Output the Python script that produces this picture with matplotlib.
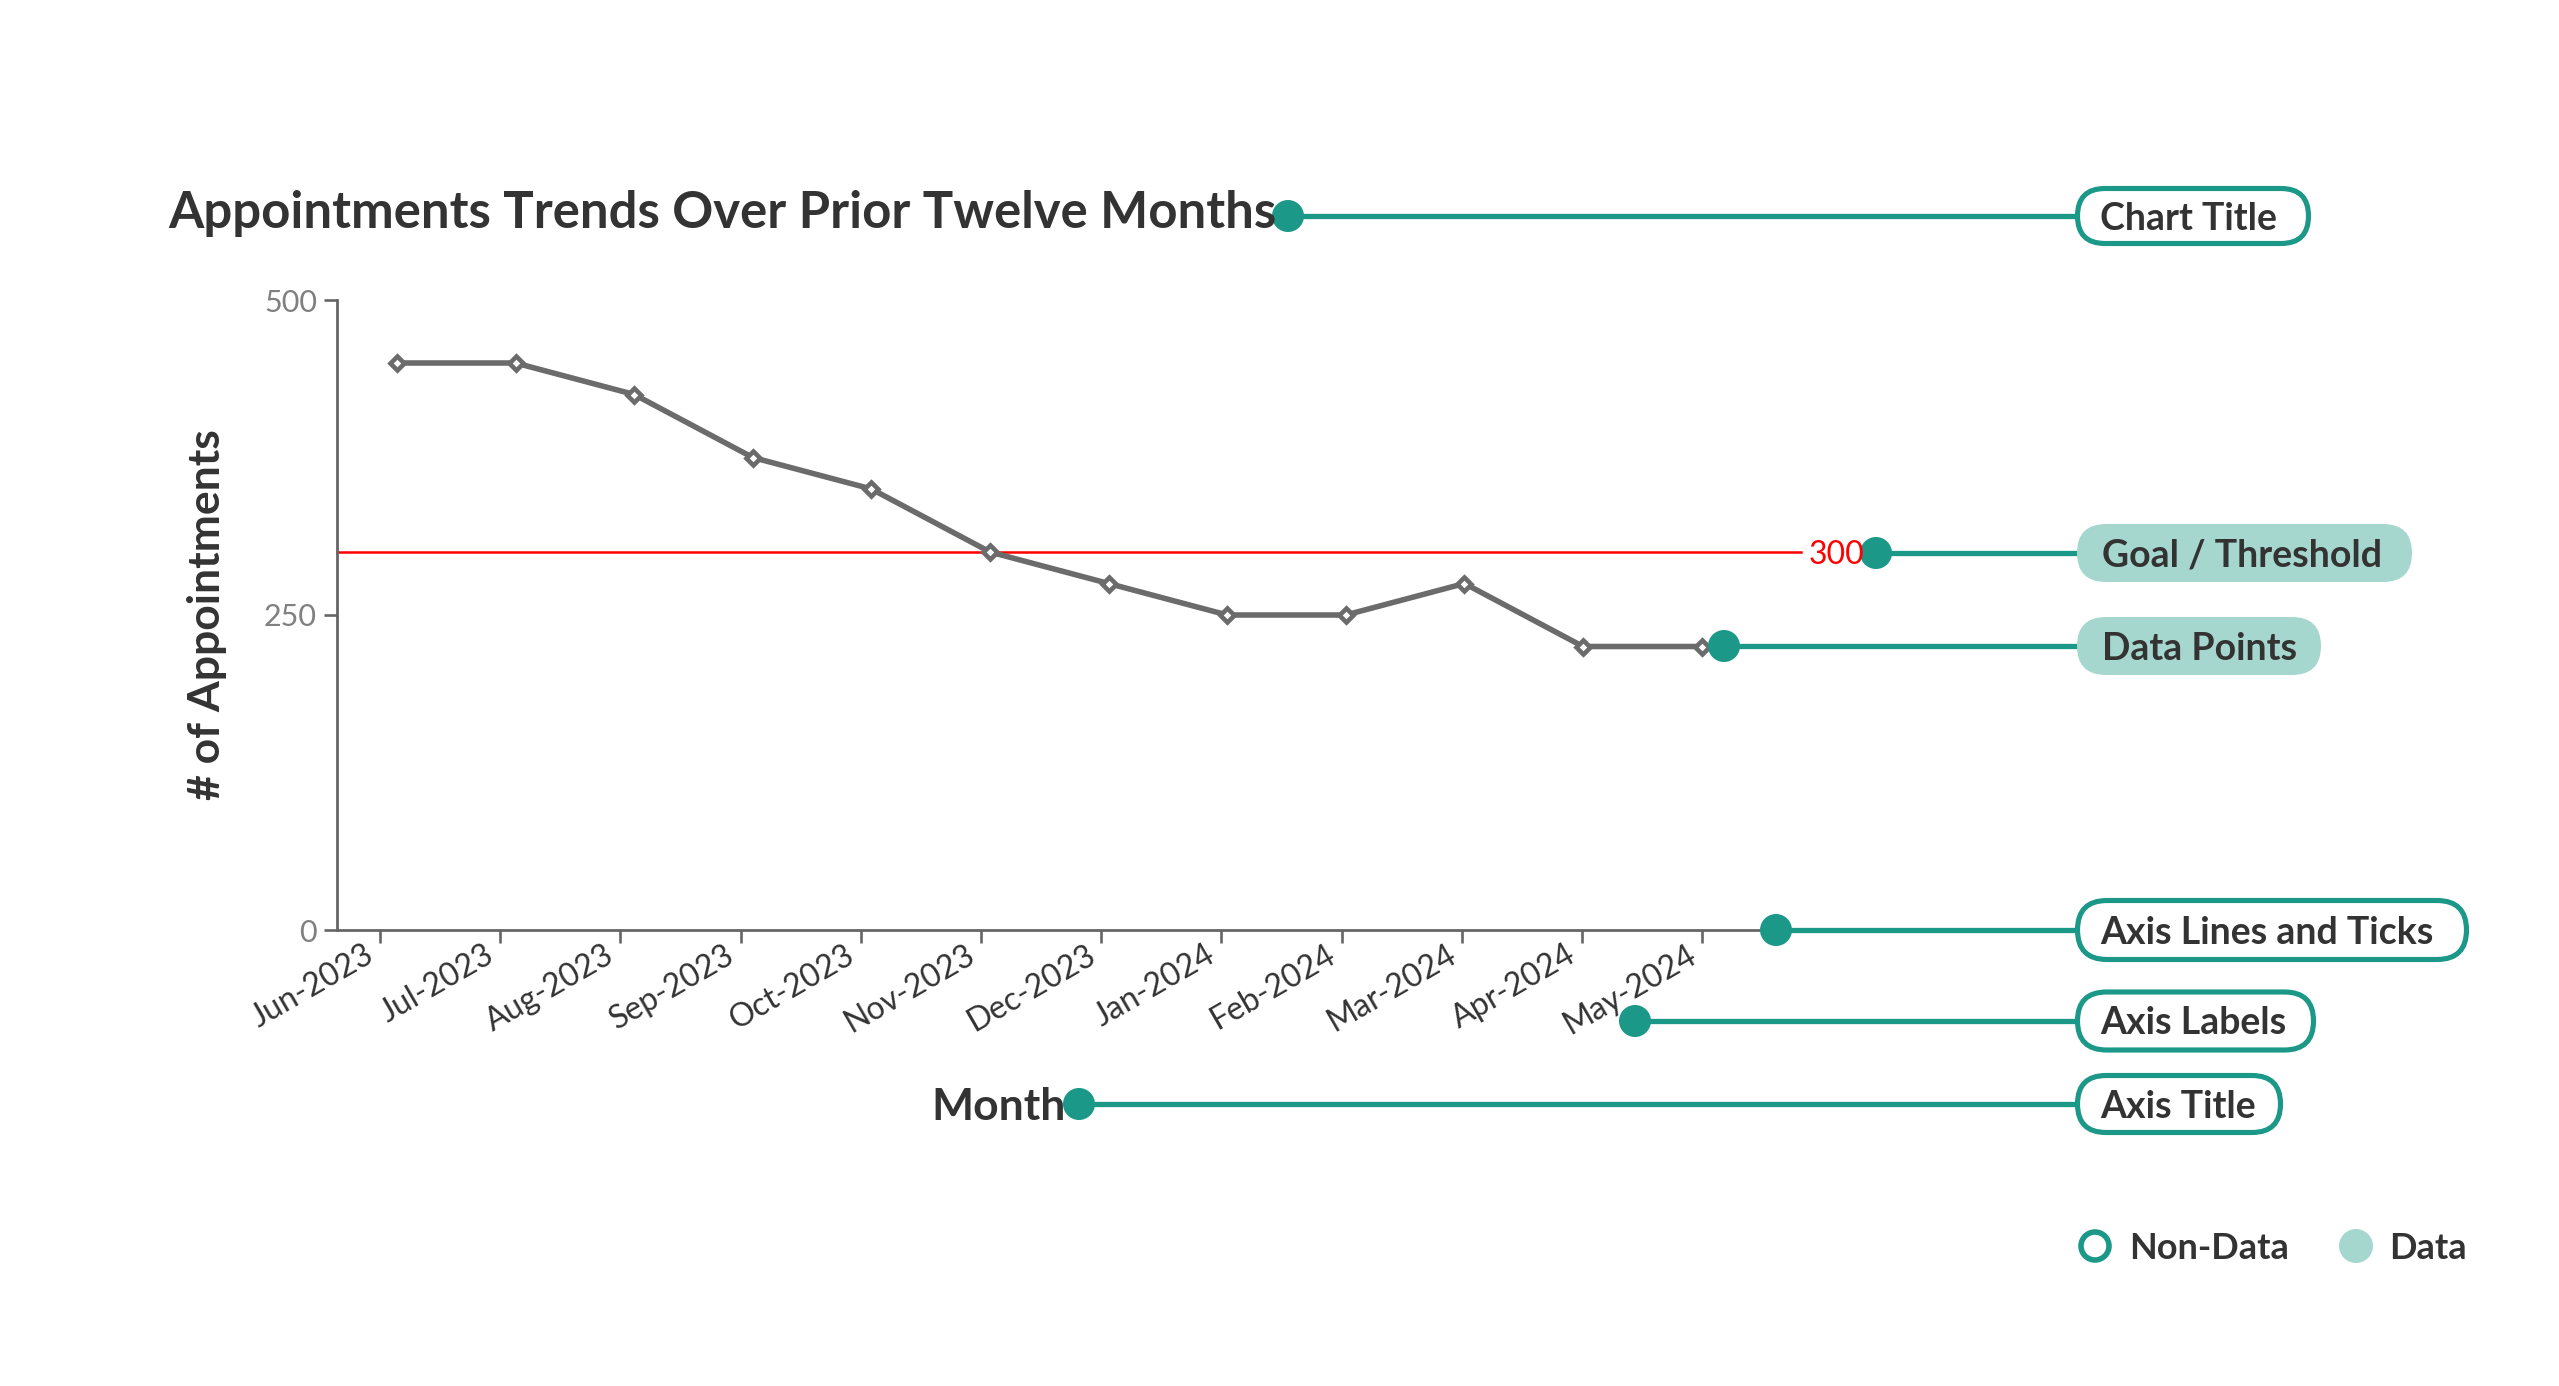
import matplotlib
matplotlib.use("Agg")
import matplotlib.pyplot as plt
from matplotlib.patches import FancyBboxPatch, Circle
from matplotlib.transforms import ScaledTranslation

# ---------------- data ----------------
months = ["Jun-2023", "Jul-2023", "Aug-2023", "Sep-2023", "Oct-2023", "Nov-2023",
          "Dec-2023", "Jan-2024", "Feb-2024", "Mar-2024", "Apr-2024", "May-2024"]
appointments = [450, 450, 425, 375, 350, 300, 275, 250, 250, 275, 225, 225]
goal = 300
y_ticks = [0, 250, 500]

title = "Appointments Trends Over Prior Twelve Months"
x_title = "Month"
y_title = "# of Appointments"

# ---------------- style ----------------
FONT = ["Lato", "DejaVu Sans"]
plt.rcParams['font.family'] = FONT
TEAL = "#1b9888"
LTEAL = "#a6d7cf"
DARK = "#333333"
LINEGRAY = "#6b6b6b"
AXGRAY = "#666666"

W, H = 2559, 1386
fig = plt.figure(figsize=(W / 100, H / 100), dpi=100)
fig.patch.set_facecolor("white")

# main axes (pixel geometry taken from reference)
axL, axR, axT, axB = 337, 1776, 300, 930
ax = fig.add_axes([axL / W, 1 - axB / H, (axR - axL) / W, (axB - axT) / H])

idx = list(range(len(months)))
ax.plot(idx, appointments, color=LINEGRAY, lw=4.0, marker="D", ms=7.5,
        mfc="white", mec=LINEGRAY, mew=3.3, zorder=3, clip_on=False)

ax.set_xlim(-0.506, 11.627)
ax.set_ylim(0, 500)
# x ticks sit on a slightly wider band than the points (as in reference)
tick_pos = [-0.1433 + 1.01349 * i for i in idx]
ax.set_xticks(tick_pos)
ax.set_xticklabels(months, rotation=30, ha="right", va="top",
                   rotation_mode="anchor", fontsize=23, color=DARK)
ax.set_yticks(y_ticks)
ax.set_yticklabels([str(v) for v in y_ticks], fontsize=22, color="#808080")
ax.tick_params(axis="x", length=9, width=1.9, color=AXGRAY, pad=3)
ax.tick_params(axis="y", length=9.5, width=1.9, color=AXGRAY, pad=5)
shift = ScaledTranslation(-16 / 100, 7 / 100, fig.dpi_scale_trans)
for lab in ax.get_xticklabels():
    lab.set_transform(lab.get_transform() + shift)
for s in ["top", "right"]:
    ax.spines[s].set_visible(False)
for s in ["left", "bottom"]:
    ax.spines[s].set_color(AXGRAY)
    ax.spines[s].set_linewidth(2.0)
ax.set_facecolor("none")

# goal line, extending a bit past the axis
ax.axhline(goal, xmin=0, xmax=1.0174, color="red", lw=1.8, clip_on=False, zorder=2)

# ---------------- overlay (pixel coordinates) ----------------
ov = fig.add_axes([0, 0, 1, 1], zorder=5)
ov.set_xlim(0, W)
ov.set_ylim(H, 0)
ov.axis("off")


def base(yc, fs):
    # baseline so that capitals are vertically centred on yc
    return yc + 0.36 * fs * 100 / 72


ov.text(168, 228, title, ha="left", va="baseline", fontsize=36.6,
        weight="bold", color=DARK)
ov.text(1066, base(1104, 32), x_title, ha="right", va="baseline", fontsize=32,
        weight="bold", color=DARK)
ov.text(207, 615, y_title, ha="center", va="center", rotation=90,
        fontsize=32, weight="bold", color=DARK)
ov.text(1809, base(553, 23), str(goal), ha="left", va="baseline", fontsize=23,
        color="red")

PILL_FS = 27


def pill(x0, x1, yc, h, label, filled):
    if filled:
        p = FancyBboxPatch((x0, yc - h / 2), x1 - x0, h,
                           boxstyle=f"round,pad=0,rounding_size={h/2}",
                           fc=LTEAL, ec="none", lw=0)
    else:
        p = FancyBboxPatch((x0 + 2.5, yc - h / 2 + 2.5), x1 - x0 - 5, h - 5,
                           boxstyle=f"round,pad=0,rounding_size={(h-5)/2}",
                           fc="white", ec=TEAL, lw=3.7)
    ov.add_patch(p)
    ov.text(x0 + 25, base(yc, PILL_FS), label, ha="left", va="baseline",
            fontsize=PILL_FS, weight="bold", color=DARK)


def leader(xd, yc, x_end):
    ov.plot([xd, x_end], [yc, yc], color=TEAL, lw=3.8, solid_capstyle="butt", zorder=1)
    ov.add_patch(Circle((xd, yc), 16, fc=TEAL, ec="none", zorder=2))


annotations = [
    # dot x, y, pill x0, x1, height, label, filled
    (1288, 216, 2075, 2311, 60, "Chart Title", False),
    (1876, 553, 2077, 2412, 58, "Goal / Threshold", True),
    (1724, 646, 2077, 2321, 58, "Data Points", True),
    (1776, 930, 2075, 2469, 64, "Axis Lines and Ticks", False),
    (1635, 1021, 2075, 2316, 63, "Axis Labels", False),
    (1079, 1104, 2075, 2283, 62, "Axis Title", False),
]
for xd, yc, x0, x1, h, lab, filled in annotations:
    leader(xd, yc, x0 + 5)
    pill(x0, x1, yc, h, lab, filled)

# legend
LEG_FS = 26
ov.add_patch(Circle((2095, 1246), 14, fc="white", ec=TEAL, lw=4))
ov.text(2129, base(1246, LEG_FS), "Non-Data", ha="left", va="baseline",
        fontsize=LEG_FS, weight="bold", color=DARK)
ov.add_patch(Circle((2356, 1246), 17, fc=LTEAL, ec="none"))
ov.text(2389, base(1246, LEG_FS), "Data", ha="left", va="baseline",
        fontsize=LEG_FS, weight="bold", color=DARK)

fig.savefig("out.png", dpi=100, facecolor="white")
